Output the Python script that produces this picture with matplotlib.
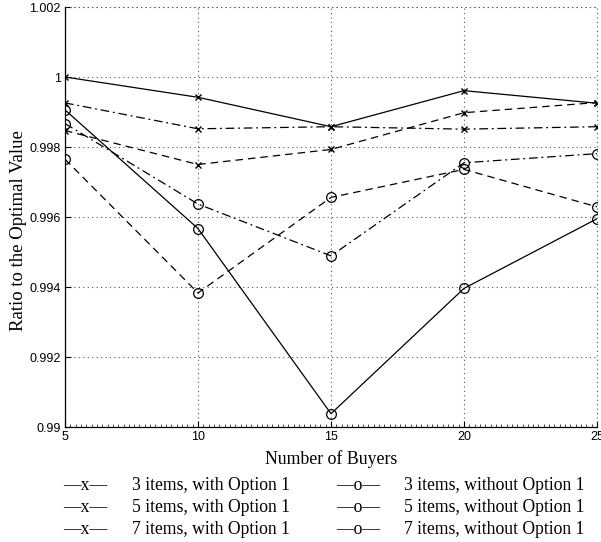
import matplotlib
matplotlib.use("Agg")
import matplotlib.pyplot as plt
import numpy as np
from matplotlib.ticker import MultipleLocator

buyers = [5, 10, 15, 20, 25]
with3 = [1.0000, 0.99942, 0.99858, 0.99961, 0.99925]
with5 = [0.99847, 0.99750, 0.99793, 0.99898, 0.99927]
with7 = [0.99926, 0.99852, 0.99858, 0.99851, 0.99858]
wo3 = [0.99906, 0.99567, 0.99038, 0.99396, 0.99595]
wo5 = [0.99765, 0.99383, 0.99656, 0.99736, 0.99629]
wo7 = [0.99867, 0.99637, 0.99489, 0.99755, 0.99781]

yticks = [0.99, 0.992, 0.994, 0.996, 0.998, 1.0, 1.002]
ytick_labels = ["0.99", "0.992", "0.994", "0.996", "0.998", "1", "1.002"]
xticks = [5, 10, 15, 20, 25]

legend_labels = [
    ("—x—", "3 items, with Option 1"),
    ("—x—", "5 items, with Option 1"),
    ("—x—", "7 items, with Option 1"),
    ("—o—", "3 items, without Option 1"),
    ("—o—", "5 items, without Option 1"),
    ("—o—", "7 items, without Option 1"),
]

W, H = 601, 542
fig = plt.figure(figsize=(W / 100, H / 100), dpi=100)
ax = fig.add_axes([65 / W, 1 - 427 / H, (597 - 65) / W, (427 - 7) / H])

dash = (0, (6, 4))
dashdot = (0, (7, 3, 1.5, 3))
kw = dict(color="black", linewidth=0.9)
ax.plot(buyers, with3, linestyle="-", marker="x", markersize=4.5, **kw)
ax.plot(buyers, with5, linestyle=dash, marker="x", markersize=4.5, **kw)
ax.plot(buyers, with7, linestyle=dashdot, marker="x", markersize=4.5, **kw)
okw = dict(marker="o", markersize=7, markerfacecolor="none", markeredgewidth=0.9)
ax.plot(buyers, wo3, linestyle="-", **okw, **kw)
ax.plot(buyers, wo5, linestyle=dash, **okw, **kw)
ax.plot(buyers, wo7, linestyle=dashdot, **okw, **kw)

ax.set_xlim(5, 25)
ax.set_ylim(0.99, 1.002)
ax.set_xticks(xticks)
ax.set_yticks(yticks)
ax.set_yticklabels(ytick_labels)
ax.xaxis.set_minor_locator(MultipleLocator(0.2))
ax.tick_params(which="major", direction="in", length=4, width=0.8,
               labelsize=9, top=False, right=False, pad=3)
ax.tick_params(which="minor", axis="x", direction="in", length=2, width=0.5)
for lab in ax.get_xticklabels() + ax.get_yticklabels():
    lab.set_fontfamily("Liberation Sans")
ax.grid(True, which="major", linestyle=(0, (1, 3)), color="#555555", linewidth=0.8)
ax.spines["top"].set_visible(False)
ax.spines["right"].set_visible(False)
ax.spines["left"].set_linewidth(0.9)
ax.spines["bottom"].set_linewidth(0.9)
ax.axhline(1.002, linestyle=(0, (1, 3)), color="#555555", linewidth=0.8, clip_on=False)
ax.axvline(25, linestyle=(0, (1, 3)), color="#555555", linewidth=0.8, clip_on=False)

ax.set_ylabel("Ratio to the Optimal Value", fontfamily="Liberation Serif", fontsize=13.5)
ax.yaxis.set_label_coords((27 - 65) / 532, (427 - 231) / 420)
fig.text(331 / W, 1 - 459 / H, "Number of Buyers", ha="center", va="center",
         fontfamily="Liberation Serif", fontsize=12.8)

rows_y = [485, 507, 530]
for i, (sample, text) in enumerate(legend_labels):
    col = i // 3
    row = i % 3
    sx = [63, 336][col]
    tx = [132, 404][col]
    y = 1 - rows_y[row] / H
    fig.text(sx / W, y, sample, ha="left", va="center",
             fontfamily="Liberation Serif", fontsize=12.7)
    fig.text(tx / W, y, text, ha="left", va="center",
             fontfamily="Liberation Serif", fontsize=12.7)

fig.savefig("out.png", dpi=100)
